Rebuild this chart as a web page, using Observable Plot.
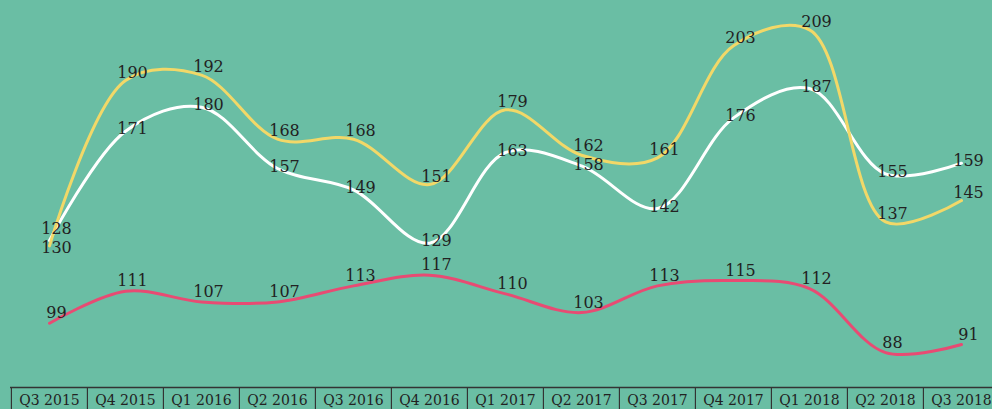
<!DOCTYPE html>
<html>
<head>
<meta charset="utf-8">
<script src="https://cdn.jsdelivr.net/npm/d3@7"></script>
<script src="https://cdn.jsdelivr.net/npm/@observablehq/plot@0.6"></script>
<style>
  html, body { margin: 0; padding: 0; background: #6abea4; overflow: hidden; }
  #chart svg { display: block; }
</style>
</head>
<body>
<div id="chart"></div>
<script>
const quarters = ["Q3 2015", "Q4 2015", "Q1 2016", "Q2 2016", "Q3 2016", "Q4 2016", "Q1 2017", "Q2 2017", "Q3 2017", "Q4 2017", "Q1 2018", "Q2 2018", "Q3 2018"];
const yellowValues = [128, 190, 192, 168, 168, 151, 179, 162, 161, 203, 209, 137, 145];
const whiteValues = [130, 171, 180, 157, 149, 129, 163, 158, 142, 176, 187, 155, 159];
const pinkValues = [99, 111, 107, 107, 113, 117, 110, 103, 113, 115, 112, 88, 91];

const toRows = (vals) => quarters.map((q, i) => ({ q, i, v: vals[i] }));
const white = toRows(whiteValues);
const yellow = toRows(yellowValues);
const pink = toRows(pinkValues);

const W = 992, H = 409;
const marginBottom = 22;
const xRange = [10, 1000];
const step = (xRange[1] - xRange[0]) / quarters.length;
const yMin = 74.9, yMax = 220;
const ppu = (H - marginBottom) / (yMax - yMin); // pixels per unit

// label placement: per-series vertical offset (px, up positive), then simple de-overlap per quarter
const seriesLift = [[yellow, 8], [white, 2], [pink, 10]];
const labels = [];
seriesLift.forEach(([rows, lift]) => rows.forEach(r => labels.push({ q: r.q, i: r.i, v: r.v, lv: r.v + lift / ppu })));
const minGap = 19 / ppu;
quarters.forEach((q, i) => {
  const group = labels.filter(d => d.i === i).sort((a, b) => b.lv - a.lv);
  for (let k = 1; k < group.length; k++) {
    const gap = group[k - 1].lv - group[k].lv;
    if (gap < minGap) {
      const push = (minGap - gap) / 2;
      group[k - 1].lv += push;
      group[k].lv -= push;
    }
  }
});

const lineOpts = { x: "q", y: "v", strokeWidth: 3, curve: "catmull-rom" };

const chart = Plot.plot({
  width: W,
  height: H,
  marginTop: 0,
  marginBottom,
  marginLeft: 10,
  marginRight: 0,
  style: { background: "#6abea4", fontFamily: "DejaVu Serif", overflow: "visible" },
  x: { type: "point", domain: quarters, range: xRange, padding: 0.5, label: null },
  y: { domain: [yMin, yMax], axis: null, label: null },
  marks: [
    Plot.ruleY([yMin], { stroke: "#333", strokeWidth: 1.5 }),
    Plot.axisX({ tickSize: marginBottom, tickFormat: () => "", dx: -step / 2, stroke: "#333", strokeWidth: 1.2, label: null }),
    Plot.axisX({ tickSize: 0, tickPadding: 8, fontSize: 14, color: "#222", fontFamily: "DejaVu Serif", label: null }),
    Plot.line(white, { ...lineOpts, stroke: "#ffffff" }),
    Plot.line(yellow, { ...lineOpts, stroke: "#f2d868" }),
    Plot.line(pink, { ...lineOpts, stroke: "#e84b73" }),
    Plot.text(labels, { x: "q", y: "lv", text: d => String(d.v), dx: 7, fontSize: 16, fill: "#222", fontFamily: "DejaVu Serif" })
  ]
});
document.getElementById("chart").append(chart);
</script>
</body>
</html>
